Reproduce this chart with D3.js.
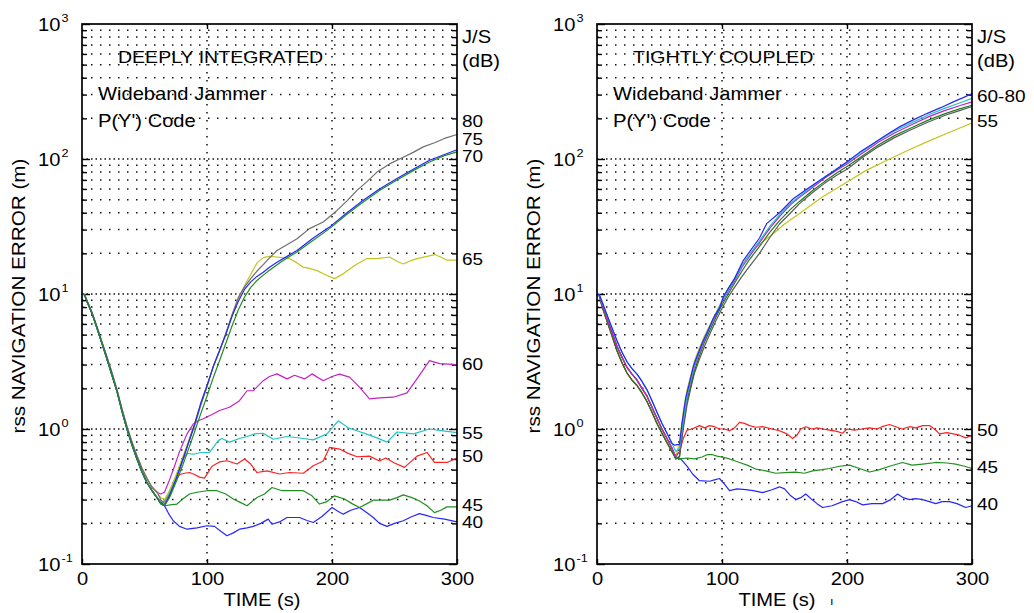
<!DOCTYPE html>
<html>
<head>
<meta charset="utf-8">
<script src="https://cdn.jsdelivr.net/npm/d3@7"></script>
<style>
body { margin: 0; background: #fff; }
svg { display: block; font-family: "Liberation Sans", Arial, sans-serif; }
</style>
</head>
<body>
<div id="chart"></div>
<script>
// ---- data: [time s, rss error m] ----
var diFall = [[0,10],[2,9.9],[4,8.8],[8,7.2],[12,5.6],[16,4.3],[20,3.3],[24,2.5],[28,1.9],[32,1.35],[36,1.0],[40,0.76],[44,0.6],[48,0.48],[52,0.4],[56,0.35],[60,0.31]];
var diFallHi = [[0,10],[2,9.9],[4,8.9],[8,7.3],[12,5.7],[16,4.4],[20,3.4],[24,2.6],[28,1.95],[32,1.4],[36,1.04],[40,0.8],[44,0.63],[48,0.51],[52,0.43],[56,0.37],[60,0.34]];
var tcFall = [[0,10],[2,9.7],[4,8.4],[8,6.6],[12,5.2],[16,4.1],[20,3.4],[24,2.86],[28,2.55],[32,2.3],[36,2.0],[40,1.75],[44,1.45],[48,1.2],[52,1.0],[56,0.85],[60,0.72]];
var tcFallHi = [[0,10],[2,9.8],[4,8.8],[8,7.0],[12,5.6],[16,4.5],[20,3.7],[24,3.15],[28,2.8],[32,2.55],[36,2.25],[40,1.95],[44,1.62],[48,1.33],[52,1.1],[56,0.93],[60,0.78]];
var tcFallLo = [[0,10],[2,9.6],[4,8.1],[8,6.3],[12,4.9],[16,3.8],[20,3.1],[24,2.6],[28,2.3],[32,2.1],[36,1.85],[40,1.6],[44,1.33],[48,1.1],[52,0.93],[56,0.79],[60,0.68]];

var di40 = diFall.concat([[63,0.29],[66,0.27],[70,0.23],[73,0.209],[78,0.19],[84,0.181],[92,0.185],[100,0.192],[106,0.19],[111,0.175],[116,0.162],[121,0.17],[126,0.181],[132,0.185],[137,0.19],[143,0.2],[149,0.215],[152,0.197],[158,0.205],[164,0.221],[174,0.221],[180,0.21],[185,0.203],[192,0.225],[200,0.262],[205,0.245],[209,0.234],[215,0.25],[222,0.262],[228,0.24],[233,0.221],[238,0.2],[244,0.19],[250,0.2],[257,0.209],[264,0.225],[270,0.236],[276,0.228],[281,0.221],[290,0.215],[300,0.205]]);
var di45 = diFall.concat([[63,0.28],[66,0.27],[72,0.275],[76,0.278],[80,0.3],[86,0.33],[92,0.34],[100,0.349],[108,0.349],[115,0.33],[121,0.303],[127,0.285],[132,0.27],[140,0.311],[146,0.33],[152,0.369],[160,0.349],[170,0.35],[177,0.349],[184,0.32],[190,0.278],[196,0.29],[202,0.32],[210,0.303],[216,0.28],[222,0.262],[228,0.28],[233,0.297],[246,0.297],[252,0.31],[257,0.325],[264,0.31],[270,0.293],[276,0.27],[282,0.24],[287,0.25],[292,0.265],[300,0.265]]);
var di50 = diFall.concat([[63,0.29],[66,0.29],[70,0.33],[74,0.4],[78,0.46],[82,0.47],[86,0.476],[90,0.46],[94,0.44],[98,0.433],[104,0.53],[110,0.57],[116,0.582],[124,0.55],[130,0.6],[135,0.55],[140,0.476],[148,0.49],[158,0.464],[166,0.476],[177,0.47],[185,0.534],[193,0.58],[198,0.73],[206,0.71],[213,0.66],[220,0.623],[230,0.63],[238,0.58],[243,0.61],[250,0.56],[258,0.52],[268,0.63],[276,0.67],[282,0.565],[292,0.565],[300,0.61]]);
var di55 = diFall.concat([[63,0.29],[66,0.29],[70,0.34],[75,0.44],[80,0.58],[84,0.66],[89,0.65],[95,0.67],[102,0.67],[109,0.82],[112,0.85],[118,0.8],[126,0.85],[132,0.88],[138,0.92],[145,0.93],[153,0.84],[164,0.88],[177,0.85],[185,0.83],[196,0.92],[205,1.15],[213,1.02],[220,0.97],[227,0.92],[236,0.86],[244,0.8],[252,0.95],[265,0.92],[278,1.0],[289,0.97],[300,0.94]]);
var di60 = diFallHi.concat([[63,0.33],[66,0.34],[70,0.42],[74,0.53],[78,0.68],[84,0.92],[89,1.09],[93,1.15],[97,1.19],[104,1.28],[110,1.37],[118,1.45],[126,1.62],[132,1.92],[137,1.92],[145,2.28],[150,2.45],[156,2.56],[164,2.35],[170,2.5],[178,2.35],[184,2.56],[193,2.28],[200,2.45],[206,2.55],[214,2.42],[222,2.04],[230,1.67],[238,1.7],[249,1.72],[260,1.85],[268,2.35],[278,3.21],[286,3.05],[300,3.0]]);
var di65 = diFallHi.concat([[63,0.31],[66,0.3],[70,0.35],[75,0.45],[80,0.6],[85,0.8],[90,1.1],[95,1.55],[100,2.1],[105,2.9],[110,3.8],[115,5.0],[120,7.0],[125,9.2],[130,11.5],[135,14],[140,17],[145,18.6],[150,19],[156,18.8],[166,18.3],[172,17],[177,15.8],[182,15.5],[188,14.9],[196,13.7],[202,13.0],[209,14.1],[215,15.5],[220,16.7],[228,18.3],[236,18.3],[246,18.8],[252,17.5],[257,16.7],[262,17.5],[268,18.3],[276,19],[282,19.6],[287,18.8],[292,17.8],[300,17.8]]);
var di70 = diFallHi.concat([[63,0.3],[66,0.28],[70,0.32],[75,0.42],[80,0.56],[85,0.78],[90,1.05],[95,1.5],[100,2.05],[105,2.9],[110,3.8],[115,5.1],[120,7.0],[125,9.4],[130,11.3],[135,13],[140,14.8],[145,16.5],[150,18.5],[156,21],[165,23.5],[172,25.7],[182,30.5],[193,34.1],[204,41.6],[212,49],[220,58.6],[228,68],[236,80],[246,92],[257,103],[265,112],[273,123],[282,132],[290,142],[300,152]]);
var di75 = diFall.concat([[63,0.28],[66,0.27],[70,0.32],[75,0.42],[80,0.57],[85,0.78],[90,1.08],[95,1.55],[100,2.1],[105,2.9],[110,3.8],[115,5.0],[120,6.8],[125,8.8],[130,10.8],[135,12.3],[140,13.5],[145,14.5],[150,15.8],[156,17.2],[164,19],[172,21],[185,26],[198,31.3],[212,40],[225,49.4],[238,60],[252,71.6],[265,84],[278,97.8],[290,108],[300,117]]);
var di80 = diFall.concat([[63,0.28],[66,0.27],[70,0.31],[75,0.4],[80,0.52],[85,0.7],[90,0.95],[95,1.3],[100,1.75],[105,2.4],[110,3.2],[115,4.3],[120,5.8],[125,7.6],[130,9.5],[135,11.2],[140,12.6],[145,13.8],[150,15],[160,17.5],[172,20.5],[185,25],[198,30.5],[212,39],[225,48],[238,58.5],[252,70],[265,82],[278,95],[290,106],[300,113]]);

var tc40 = tcFall.concat([[63,0.62],[67,0.6],[72,0.53],[76.5,0.464],[82,0.414],[90,0.41],[94,0.42],[98,0.43],[102,0.39],[106,0.35],[112,0.36],[119,0.355],[125,0.35],[132.5,0.338],[140,0.355],[146,0.373],[150,0.36],[155,0.32],[159,0.3],[163,0.31],[167,0.33],[172,0.3],[176,0.28],[180.5,0.262],[188,0.27],[196.5,0.29],[202,0.3],[207,0.29],[212.5,0.274],[220,0.28],[228.5,0.28],[235,0.3],[240.5,0.33],[245,0.31],[250,0.3],[255,0.305],[260.5,0.3],[266,0.29],[271,0.28],[276,0.29],[282,0.29],[288,0.28],[295,0.262],[300,0.27]]);
var tc45 = tcFallLo.concat([[63,0.61],[66,0.6],[72,0.61],[78,0.6],[84,0.62],[88,0.645],[92.5,0.645],[96,0.63],[100,0.62],[106,0.6],[114,0.565],[120,0.54],[127,0.505],[135,0.49],[143,0.47],[150,0.475],[159,0.48],[166,0.47],[172.5,0.49],[180,0.5],[186,0.51],[194,0.53],[202,0.54],[210,0.51],[218,0.48],[226,0.5],[234,0.53],[244.5,0.565],[252,0.54],[260.5,0.55],[271,0.565],[280,0.56],[287,0.55],[294,0.53],[300,0.51]]);
var tc50 = tcFallLo.concat([[63,0.64],[66,0.68],[69,0.85],[72,0.98],[76,1.0],[82,1.06],[86,1.02],[90,1.06],[94,1.04],[98,1.0],[102,1.0],[106,0.97],[110,1.02],[114,1.12],[118,1.1],[122,1.06],[127,1.03],[132.5,1.04],[140,1.0],[146,0.97],[152,0.92],[156.5,0.85],[160,0.9],[163,1.0],[167,1.04],[172,1.0],[176,1.02],[180.5,1.0],[186,0.98],[192,0.96],[196.5,0.93],[200,1.0],[206,0.98],[212,1.0],[218,1.02],[224,1.0],[228,1.04],[234,1.08],[239,1.04],[244,1.0],[250,1.04],[255,1.02],[260.5,1.06],[266,1.06],[270,1.0],[274,0.92],[280,0.94],[285,0.92],[290,0.9],[295,0.86],[300,0.9]]);
var tc55 = tcFall.concat([[63,0.62],[66,0.8],[69,1.35],[72,1.95],[75,2.5],[78,3.2],[82,4.0],[86,4.9],[90,5.8],[95,7.2],[100,9.0],[105,11],[110,13],[116,16.5],[122,19.5],[128,22.5],[134,25],[140,27.5],[150,33],[162,39.4],[180,52],[200,67.6],[215,82],[232,97.8],[248,115],[264,134],[282,158],[300,185]]);
var tc60 = tcFall.concat([[63,0.6],[66,0.62],[69,1.0],[72,1.5],[75,2.0],[78,2.6],[82,3.3],[86,4.1],[90,5.0],[95,6.3],[100,7.8],[105,9.5],[110,11.2],[116,13.5],[122,16],[130,20],[138,26],[146,33],[155,40],[162,46.7],[172,56],[182,66],[192,76],[200,84],[212,102],[225,123],[238,144],[252,166],[265,188],[278,210],[290,228],[300,245]]);
var tc65 = tcFallLo.concat([[63,0.6],[66,0.63],[69,1.05],[72,1.6],[75,2.1],[78,2.7],[82,3.5],[86,4.4],[90,5.3],[95,6.7],[100,8.3],[105,10],[110,12],[116,14.8],[122,18],[130,22.5],[138,28.5],[146,35],[155,42.5],[162,48.5],[172,58],[182,68],[192,79],[200,88],[212,105],[225,127],[238,149],[252,171],[265,194],[278,216],[290,235],[300,250]]);
var tc70 = tcFall.concat([[63,0.62],[66,0.68],[69,1.12],[72,1.7],[75,2.25],[78,2.9],[82,3.7],[86,4.6],[90,5.6],[95,7.0],[100,8.7],[105,10.5],[110,12.5],[116,15.8],[122,19],[130,24],[138,30.5],[146,37.5],[155,46],[162,52],[172,61],[182,72],[192,83],[200,92],[212,110],[225,133],[238,156],[252,180],[265,205],[278,228],[290,248],[300,265]]);
var tc75 = tcFallHi.concat([[63,0.68],[66,0.72],[69,1.15],[72,1.75],[75,2.3],[78,3.0],[82,3.8],[86,4.7],[90,5.7],[95,7.1],[100,8.8],[105,10.7],[110,12.8],[116,16.2],[122,19.6],[130,24.8],[138,31.5],[146,38.5],[155,47],[162,53],[172,62.5],[182,73.5],[192,85],[200,94],[212,113],[225,137],[238,161],[252,186],[265,212],[278,237],[290,260],[300,281]]);
var tc80 = tcFallHi.concat([[62,0.76],[66,0.77],[68,1.1],[71,1.7],[74.4,2.28],[77,2.9],[79.7,3.4],[84,4.3],[87.7,5.07],[93,6.6],[98.4,8.0],[101,9.5],[105,11],[110,13],[117,17.7],[122,20.5],[130,26],[135.7,33.2],[146,40],[157,50.8],[168,60],[178.4,69.5],[190,82],[199.8,95],[210,112],[221,130],[232,152],[242,173],[253,195],[263.8,217],[275,240],[285,265],[293,285],[300,306]]);

var diSeries = [di40, di45, di50, di55, di60, di65, di70, di75, di80];
var tcSeries = [tc40, tc45, tc50, tc55, tc60, tc65, tc70, tc75, tc80];
var diColors = ["#2626ff", "#1f8f1f", "#ff2020", "#22c4c4", "#c422c4", "#c4c422", "#6e6e6e", "#2626ff", "#1f8f1f"];
var tcColors = ["#2626ff", "#1f8f1f", "#ff2020", "#c4c422", "#5a5a5a", "#1f7a1f", "#c422c4", "#22c4c4", "#2626ff"];

// J/S labels at the right edge, placed at a value on the y axis
var diLabels = ["80", "75", "70", "65", "60", "55", "50", "45", "40"];
var diLabelAt = [190, 141, 105, 18.2, 3.03, 0.934, 0.63, 0.274, 0.203];
var tcLabels = ["60-80", "55", "50", "45", "40"];
var tcLabelAt = [293, 191, 0.983, 0.523, 0.278];

var xTicks = [0, 100, 200, 300];
var decades = [0.1, 1, 10, 100, 1000];
var decadeExp = ["-1", "0", "1", "2", "3"];

// ---- layout ----
var W = 1034, H = 613;
var TOP = 24, BOT = 564, PW = 375;
var SX = 1.15;   // text in the scan is a bit wide

var svg = d3.select("#chart").append("svg")
    .attr("width", W)
    .attr("height", H);

var yScale = d3.scaleLog().domain([0.1, 1000]).range([BOT, TOP]);
var minors = yScale.ticks().filter(v => decades.indexOf(v) < 0 && v > 0.1 && v < 1000);

var txt = (g, x, y, s, size, anchor) =>
    g.append("text")
        .attr("transform", `translate(${x},${y}) scale(${SX},1)`)
        .attr("font-size", size)
        .attr("text-anchor", anchor || "start")
        .attr("fill", "#000")
        .text(s);

var drawPanel = (left, title, series, colors, labels, labelAt) => {
    var xScale = d3.scaleLinear().domain([0, 300]).range([left, left + PW]);
    var g = svg.append("g");

    /* dotted grid */
    g.append("g").selectAll("line")
        .data(minors).enter()
        .append("line")
        .attr("x1", left).attr("x2", left + PW)
        .attr("y1", d => yScale(d)).attr("y2", d => yScale(d))
        .style("stroke", "#111")
        .style("stroke-width", 1.5)
        .style("stroke-dasharray", "1.5,7.5");
    g.append("g").selectAll("line")
        .data(decades.slice(1, 4)).enter()
        .append("line")
        .attr("x1", left).attr("x2", left + PW)
        .attr("y1", d => yScale(d)).attr("y2", d => yScale(d))
        .style("stroke", "#111")
        .style("stroke-width", 1.5)
        .style("stroke-dasharray", "1.5,3");
    g.append("g").selectAll("line")
        .data([100, 200]).enter()
        .append("line")
        .attr("x1", d => xScale(d)).attr("x2", d => xScale(d))
        .attr("y1", TOP).attr("y2", BOT)
        .style("stroke", "#111")
        .style("stroke-width", 1.5)
        .style("stroke-dasharray", "1.5,6.5");

    /* axes with inward ticks */
    var axes = [
        [d3.axisLeft(yScale).tickValues(decades).tickSize(-8), `translate(${left},0)`],
        [d3.axisLeft(yScale).tickValues(minors).tickSize(-5), `translate(${left},0)`],
        [d3.axisRight(yScale).tickValues(decades).tickSize(-8), `translate(${left + PW},0)`],
        [d3.axisRight(yScale).tickValues(minors).tickSize(-5), `translate(${left + PW},0)`],
        [d3.axisTop(xScale).tickValues([100, 200]).tickSize(-5), `translate(0,${TOP})`]
    ];
    axes.forEach(a => {
        var ax = g.append("g").attr("transform", a[1]).call(a[0].tickFormat(""));
        ax.select(".domain").remove();
        ax.selectAll("line").style("stroke", "#000").style("stroke-width", 1.4);
    });

    var xAxis = g.append("g")
        .attr("transform", `translate(0,${BOT})`)
        .call(d3.axisBottom(xScale).tickValues(xTicks).tickSize(-5).tickPadding(9));
    xAxis.select(".domain").remove();
    xAxis.selectAll("line").style("stroke", "#000").style("stroke-width", 1.4);
    xAxis.selectAll("text")
        .attr("font-size", 17.5)
        .attr("font-family", "Liberation Sans, Arial, sans-serif")
        .attr("fill", "#000")
        .attr("transform", `scale(${SX},1)`);

    /* y tick labels 10^n */
    decades.forEach((d, i) => {
        var t = g.append("text")
            .attr("transform", `translate(${left - 44},${yScale(d) + 7}) scale(${SX},1)`)
            .attr("font-size", 17.5)
            .attr("fill", "#000");
        t.append("tspan").text("10");
        t.append("tspan").attr("font-size", 11).attr("dx", 1).attr("dy", -9).text(decadeExp[i]);
    });

    /* curves */
    var line = d3.line()
        .x(d => xScale(d[0]))
        .y(d => yScale(d[1]));
    g.append("g").selectAll("path")
        .data(series).enter()
        .append("path")
        .attr("d", d => line(d))
        .style("fill", "none")
        .style("stroke", (d, i) => colors[i])
        .style("stroke-width", 1.2)
        .style("stroke-linejoin", "round");

    /* frame */
    g.append("rect")
        .attr("x", left).attr("y", TOP)
        .attr("width", PW).attr("height", BOT - TOP)
        .style("fill", "none")
        .style("stroke", "#000")
        .style("stroke-width", 1.7);

    /* texts */
    txt(g, left + 36, 63, title, 17);
    txt(g, left + 16, 100, "Wideband Jammer", 17.5);
    txt(g, left + 16, 127, "P(Y') Code", 17.5);
    txt(g, left + 380, 43, "J/S", 17.5);
    txt(g, left + 380, 67, "(dB)", 17.5);
    labels.forEach((s, i) => txt(g, left + 380, yScale(labelAt[i]) + 6, s, 16.5));
    txt(g, left + 180, 606, "TIME (s)", 17.5, "middle");

    g.append("text")
        .attr("transform", `translate(${left - 57},${296}) rotate(-90) scale(${SX},1)`)
        .attr("font-size", 18)
        .attr("text-anchor", "middle")
        .attr("fill", "#000")
        .text("rss NAVIGATION ERROR (m)");
    return g;
};

drawPanel(82, "DEEPLY INTEGRATED", diSeries, diColors, diLabels, diLabelAt);
var right = drawPanel(597, "TIGHTLY COUPLED", tcSeries, tcColors, tcLabels, tcLabelAt);
txt(right, 830, 605, "ı", 11);
</script>
</body>
</html>
